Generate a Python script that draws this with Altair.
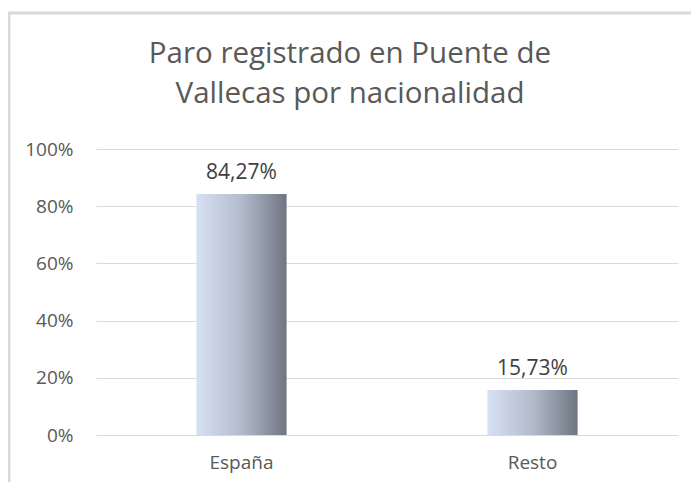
import altair as alt
import pandas as pd

categories = ["España", "Resto"]
values = [0.8427, 0.1573]
labels = [f"{v*100:.2f}%".replace(".", ",") for v in values]

df = pd.DataFrame({"cat": categories, "val": values, "lab": labels})

FONT = "Open Sans"
grad = alt.Gradient(
    gradient="linear",
    stops=[
        alt.GradientStop(color="#d7e1f4", offset=0),
        alt.GradientStop(color="#b3bbcb", offset=0.5),
        alt.GradientStop(color="#6f7581", offset=1),
    ],
    x1=0, x2=1, y1=0, y2=0,
)

x = alt.X(
    "cat:N",
    sort=categories,
    scale=alt.Scale(paddingInner=0.69, paddingOuter=0.345),
    axis=alt.Axis(
        title=None, labelAngle=0, ticks=False, domain=False, grid=False,
        labelFont=FONT, labelFontSize=19, labelColor="#595959", labelPadding=18,
    ),
)
y = alt.Y(
    "val:Q",
    scale=alt.Scale(domain=[0, 1], nice=False),
    axis=alt.Axis(
        title=None, values=[0, 0.2, 0.4, 0.6, 0.8, 1.0], format=".0%",
        ticks=False, domain=False, gridColor="#d9d9d9", gridWidth=1,
        labelFont=FONT, labelFontSize=19, labelColor="#595959", labelPadding=23,
    ),
)

base = alt.Chart(df)
bars = base.mark_bar(color=grad).encode(x=x, y=y)
text = base.mark_text(
    baseline="alphabetic", dy=-15, font=FONT, fontSize=21, color="#404040"
).encode(x=x, y=y, text="lab:N")

frame_data = alt.Data(values=[{"a": 1}])
top_rule = alt.Chart(frame_data).mark_rule(color="#d9d9d9", strokeWidth=3).encode(
    x=alt.value(-88), x2=alt.value(610), y=alt.value(-136)
)
left_rule = alt.Chart(frame_data).mark_rule(color="#d9d9d9", strokeWidth=3).encode(
    x=alt.value(-87), y=alt.value(-137), y2=alt.value(340)
)

chart = (
    alt.layer(bars, text, top_rule, left_rule)
    .properties(
        width=582,
        height=286,
        autosize=alt.AutoSizeParams(type="none"),
        padding={"left": 88, "top": 141, "right": 13, "bottom": 47},
        view=alt.ViewBackground(strokeWidth=0, strokeOpacity=0),
        title=alt.TitleParams(
            ["Paro registrado en Puente de", "Vallecas por nacionalidad"],
            font=FONT, fontSize=29.5, fontWeight="normal", color="#595959",
            anchor="middle", dx=-37, offset=-99, lineHeight=40,
        ),
    )
    .configure_view(strokeWidth=0, strokeOpacity=0)
    .configure(background="white")
)

chart.save("out.html", embed_options={"renderer": "svg", "actions": False})
